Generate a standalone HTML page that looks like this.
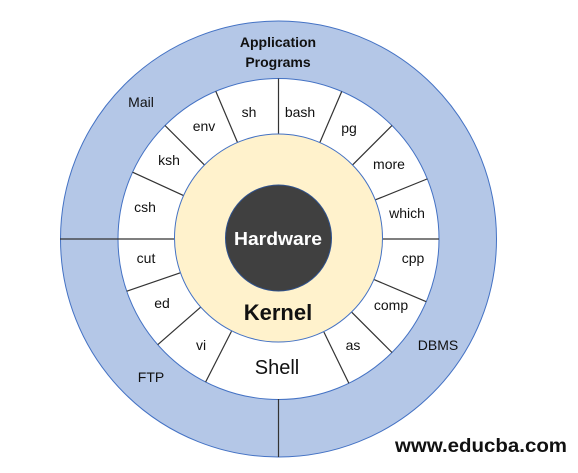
<!DOCTYPE html>
<html><head><meta charset="utf-8"><style>
html,body{margin:0;padding:0;background:#fff;}
svg{display:block;}
text{font-family:"Liberation Sans",sans-serif;fill:#111;}
</style></head><body>
<svg width="578" height="473" viewBox="0 0 578 473">
<circle cx="278.5" cy="239" r="218" fill="#b4c7e7" stroke="#4472c4" stroke-width="1"/>
<circle cx="278.5" cy="239" r="160.5" fill="#fff" stroke="#4472c4" stroke-width="1"/>
<g stroke="#333" stroke-width="1.2">
<line x1="60" y1="239" x2="174" y2="239"/>
<line x1="278.5" y1="399" x2="278.5" y2="457"/>
<g>
<line x1="382" y1="239" x2="439" y2="239" transform="rotate(-90 278.5 239)"/>
<line x1="382" y1="239" x2="439" y2="239" transform="rotate(-66.8 278.5 239)"/>
<line x1="382" y1="239" x2="439" y2="239" transform="rotate(-45 278.5 239)"/>
<line x1="382" y1="239" x2="439" y2="239" transform="rotate(-22 278.5 239)"/>
<line x1="382" y1="239" x2="439" y2="239"/>
<line x1="382" y1="239" x2="439" y2="239" transform="rotate(23 278.5 239)"/>
<line x1="382" y1="239" x2="439" y2="239" transform="rotate(45 278.5 239)"/>
<line x1="382" y1="239" x2="439" y2="239" transform="rotate(64 278.5 239)"/>
<line x1="382" y1="239" x2="439" y2="239" transform="rotate(117 278.5 239)"/>
<line x1="382" y1="239" x2="439" y2="239" transform="rotate(138.8 278.5 239)"/>
<line x1="382" y1="239" x2="439" y2="239" transform="rotate(161 278.5 239)"/>
<line x1="382" y1="239" x2="439" y2="239" transform="rotate(-155.4 278.5 239)"/>
<line x1="382" y1="239" x2="439" y2="239" transform="rotate(-135 278.5 239)"/>
<line x1="382" y1="239" x2="439" y2="239" transform="rotate(-113 278.5 239)"/>
</g>
</g>
<circle cx="278.5" cy="238" r="104" fill="#fff2cc" stroke="#4472c4" stroke-width="1"/>
<circle cx="278.5" cy="238" r="53" fill="#404040" stroke="#2f528f" stroke-width="1"/>
<g text-anchor="middle" font-size="14">
<text x="278" y="47" font-weight="bold">Application</text>
<text x="278" y="67" font-weight="bold">Programs</text>
<text x="141" y="107">Mail</text>
<text x="249" y="117">sh</text>
<text x="300" y="117">bash</text>
<text x="204" y="131">env</text>
<text x="349" y="133">pg</text>
<text x="169" y="165">ksh</text>
<text x="389" y="169">more</text>
<text x="145" y="212">csh</text>
<text x="407" y="218">which</text>
<text x="146" y="263">cut</text>
<text x="413" y="263">cpp</text>
<text x="162" y="308">ed</text>
<text x="391" y="310">comp</text>
<text x="201" y="350">vi</text>
<text x="353" y="350">as</text>
<text x="438" y="350">DBMS</text>
<text x="151" y="382">FTP</text>
<text x="277" y="374" font-size="20">Shell</text>
<text x="278" y="320" font-size="22" font-weight="bold">Kernel</text>
<text x="278" y="245" font-size="18" font-weight="bold" textLength="88" lengthAdjust="spacingAndGlyphs" style="fill:#fff">Hardware</text>
</g>
<text x="395" y="452" font-size="19" font-weight="bold" textLength="172" lengthAdjust="spacingAndGlyphs">www.educba.com</text>
</svg>
</body></html>
